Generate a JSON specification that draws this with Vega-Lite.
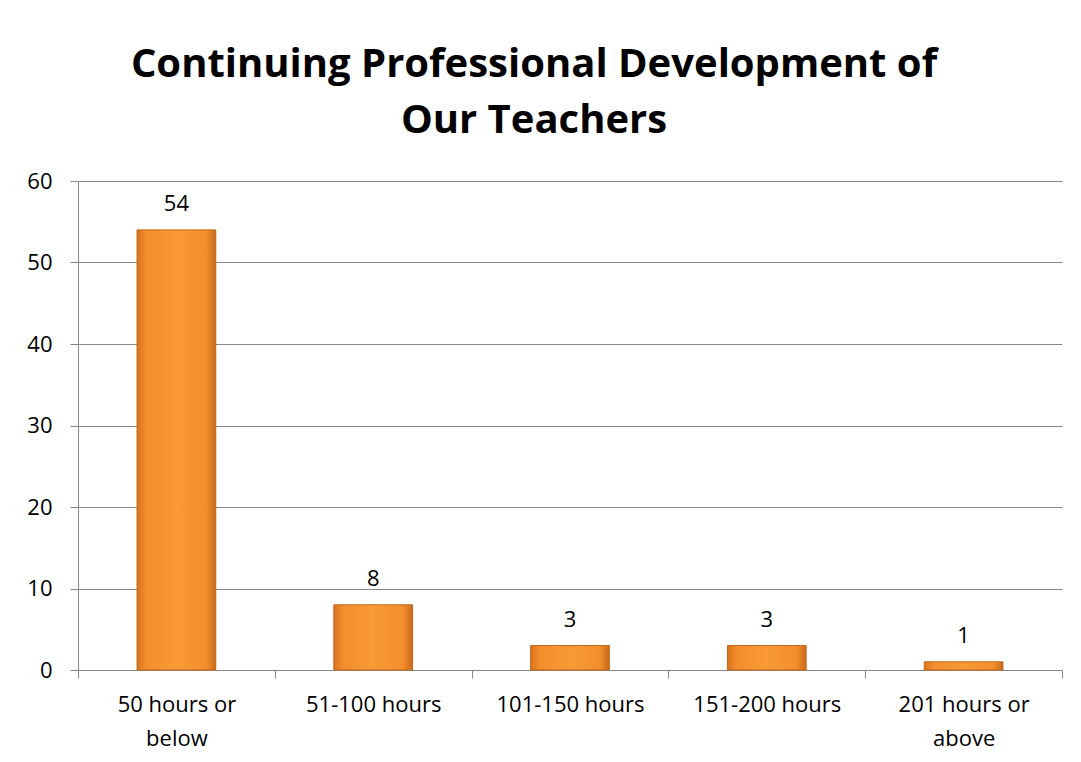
{
  "$schema": "https://vega.github.io/schema/vega-lite/v6.json",
  "autosize": {"type": "none"},
  "padding": {"left": 78, "top": 181, "right": 19, "bottom": 92},
  "width": 984,
  "height": 489,
  "background": "white",
  "title": {
    "text": ["Continuing Professional Development of", "Our Teachers"],
    "font": "Open Sans",
    "fontSize": 40,
    "fontWeight": "bold",
    "color": "#000000",
    "anchor": "middle",
    "dx": -36,
    "lineHeight": 56,
    "offset": 29
  },
  "data": {
    "values": [
      {"category": "50 hours or below", "count": 54},
      {"category": "51-100 hours", "count": 8},
      {"category": "101-150 hours", "count": 3},
      {"category": "151-200 hours", "count": 3},
      {"category": "201 hours or above", "count": 1}
    ]
  },
  "encoding": {
    "x": {
      "field": "category",
      "type": "nominal",
      "sort": null,
      "scale": {"paddingInner": 0, "paddingOuter": 0},
      "axis": {
        "title": null,
        "labelAngle": 0,
        "labelFont": "Open Sans",
        "labelFontSize": 22,
        "labelColor": "#000000",
        "labelBaseline": "top",
        "labelPadding": 16,
        "labelLineHeight": 34,
        "tickBand": "extent",
        "tickSize": 8,
        "tickColor": "#888888",
        "domainColor": "#888888",
        "grid": false,
        "labelExpr": "datum.value == '50 hours or below' ? ['50 hours or', 'below'] : datum.value == '201 hours or above' ? ['201 hours or', 'above'] : datum.value"
      }
    },
    "y": {
      "field": "count",
      "type": "quantitative",
      "scale": {"domain": [0, 60], "nice": false},
      "axis": {
        "title": null,
        "values": [0, 10, 20, 30, 40, 50, 60],
        "labelFont": "Open Sans",
        "labelFontSize": 22,
        "labelColor": "#000000",
        "labelPadding": 18,
        "tickSize": 8,
        "tickColor": "#888888",
        "domainColor": "#888888",
        "gridColor": "#888888",
        "gridWidth": 1
      }
    }
  },
  "layer": [
    {
      "mark": {
        "type": "bar",
        "width": {"band": 0.4},
        "stroke": "#C0661A",
        "strokeWidth": 1,
        "color": {
          "gradient": "linear",
          "x1": 0, "y1": 0, "x2": 1, "y2": 0,
          "stops": [
            {"offset": 0, "color": "#D8731E"},
            {"offset": 0.12, "color": "#F38E2C"},
            {"offset": 0.5, "color": "#F99A35"},
            {"offset": 0.88, "color": "#F38E2C"},
            {"offset": 1, "color": "#C8691B"}
          ]
        }
      }
    },
    {
      "mark": {
        "type": "text",
        "baseline": "alphabetic",
        "dy": -19,
        "font": "Open Sans",
        "fontSize": 22,
        "color": "#000000"
      },
      "encoding": {"text": {"field": "count", "type": "quantitative"}}
    }
  ],
  "config": {
    "view": {"stroke": null}
  }
}
